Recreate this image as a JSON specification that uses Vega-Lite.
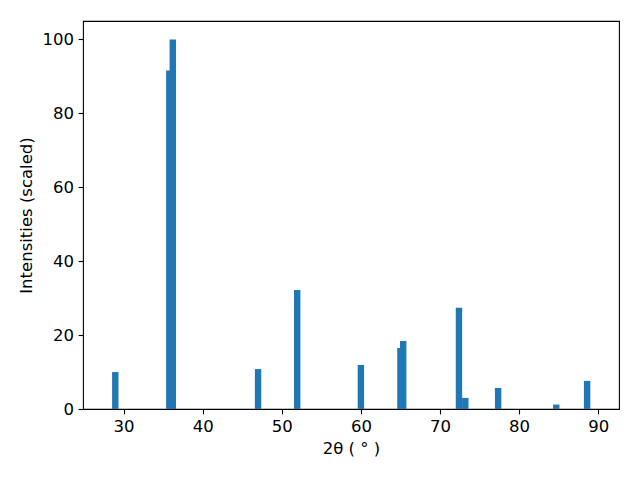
{
  "$schema": "https://vega.github.io/schema/vega-lite/v6.json",
  "width": 536,
  "height": 388,
  "autosize": {"type": "none"},
  "padding": {"left": 83, "top": 21, "right": 21, "bottom": 71},
  "background": "white",
  "config": {
    "view": {"stroke": "black", "strokeWidth": 1.1},
    "font": "DejaVu Sans",
    "axis": {
      "domain": false,
      "grid": false,
      "ticks": true,
      "tickColor": "black",
      "tickSize": 4.9,
      "tickWidth": 1.1,
      "labelFont": "DejaVu Sans",
      "labelFontSize": 16.5,
      "labelColor": "black",
      "labelPadding": 4.5,
      "titleFont": "DejaVu Sans",
      "titleFontSize": 16.5,
      "titleFontWeight": "normal",
      "titleColor": "black"
    }
  },
  "data": {
    "values": [
      {"two_theta": 28.95, "intensity": 10.0},
      {"two_theta": 35.78, "intensity": 91.6},
      {"two_theta": 36.22, "intensity": 100.0},
      {"two_theta": 47.0, "intensity": 10.8},
      {"two_theta": 51.95, "intensity": 32.2},
      {"two_theta": 60.0, "intensity": 11.9},
      {"two_theta": 65.0, "intensity": 16.5},
      {"two_theta": 65.35, "intensity": 18.4},
      {"two_theta": 72.4, "intensity": 27.4},
      {"two_theta": 73.2, "intensity": 3.0},
      {"two_theta": 77.35, "intensity": 5.7},
      {"two_theta": 84.7, "intensity": 1.2},
      {"two_theta": 88.6, "intensity": 7.6}
    ]
  },
  "mark": {"type": "bar", "color": "#1f77b4", "size": 6.4, "binSpacing": 0},
  "encoding": {
    "x": {
      "field": "two_theta",
      "type": "quantitative",
      "scale": {"domain": [25.5, 92.0], "nice": false, "zero": false},
      "axis": {"values": [30, 40, 50, 60, 70, 80, 90], "title": "2θ ( ° )", "titlePadding": 6}
    },
    "y": {
      "field": "intensity",
      "type": "quantitative",
      "scale": {"domain": [0, 105], "nice": false},
      "axis": {"values": [0, 20, 40, 60, 80, 100], "title": "Intensities (scaled)", "titlePadding": 8}
    }
  }
}
